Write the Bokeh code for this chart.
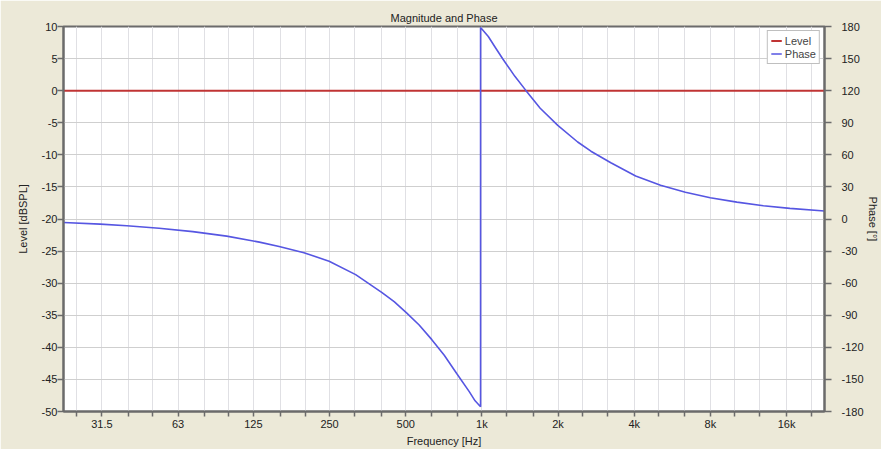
from bokeh.plotting import figure
from bokeh.models import Range1d, LinearAxis, FixedTicker, Legend, LegendItem
from bokeh.embed import file_html
from bokeh.resources import INLINE

# ---- data ----
freq_ticks = [25.0, 31.5, 40.0, 50.0, 63.0, 80.0, 100.0, 125.0, 160.0, 200.0, 250.0,
              315.0, 400.0, 500.0, 630.0, 800.0, 1000.0, 1250.0, 1600.0, 2000.0,
              2500.0, 3150.0, 4000.0, 5000.0, 6300.0, 8000.0, 10000.0, 12500.0,
              16000.0, 20000.0]
freq_labels = {31.5: "31.5", 63.0: "63", 125.0: "125", 250.0: "250", 500.0: "500",
               1000.0: "1k", 2000.0: "2k", 4000.0: "4k", 8000.0: "8k", 16000.0: "16k"}
level_ticks = [-50, -45, -40, -35, -30, -25, -20, -15, -10, -5, 0, 5, 10]
phase_ticks = [-180, -150, -120, -90, -60, -30, 0, 30, 60, 90, 120, 150, 180]

level_freq = [22.2, 22600.0]
level_db = [0.0, 0.0]

phase_freq = [22.2, 31.0, 39.5, 53.0, 72.0, 98.0, 132.0, 158.0, 198.0, 249.0, 317.0,
              403.0, 450.0, 505.0, 565.0, 634.0, 710.0, 795.0, 890.0, 940.0,
              988.0, 988.0, 1060.0, 1120.0, 1210.0, 1350.0, 1497.0, 1700.0,
              1995.0, 2391.0, 2697.0, 3233.0, 4053.0, 5083.0, 6373.0, 7990.0,
              10180.0, 12960.0, 16490.0, 22600.0]
phase_deg = [-3.3, -4.8, -6.3, -8.6, -11.8, -16.0, -21.6, -25.7, -31.5, -39.5, -52.0,
             -68.8, -77.3, -88.0, -99.1, -112.8, -127.4, -144.5, -161.2, -170.0,
             -175.5, 179.0, 170.6, 161.8, 149.6, 133.4, 119.8, 103.6,
             87.5, 72.0, 63.4, 52.6, 40.2, 31.5, 25.0, 19.8,
             15.8, 12.4, 9.9, 7.5]

FONT = "Liberation Sans"
BG = "#ECE9D8"
AX = "#6B6B6B"
TXT = "#222222"

p = figure(width=881, height=449, x_axis_type="log",
           x_range=Range1d(22.2, 22600), y_range=Range1d(-50, 10),
           output_backend="svg", toolbar_location=None,
           min_border_left=63, min_border_right=53, min_border_top=26,
           min_border_bottom=35)
p.extra_y_ranges = {"phase": Range1d(-180, 180)}

p.border_fill_color = BG
p.background_fill_color = "white"
p.outline_line_color = AX
p.outline_line_width = 2

p.title.text = "Magnitude and Phase"
p.title.align = "center"
p.title.text_font = FONT
p.title.text_font_size = "11px"
p.title.text_font_style = "normal"
p.title.text_color = TXT
p.title.standoff = 5

right = LinearAxis(y_range_name="phase", axis_label="Phase [°]")
p.add_layout(right, "right")

p.xaxis.ticker = FixedTicker(ticks=freq_ticks)
p.xaxis.major_label_overrides = {t: freq_labels.get(t, "") for t in freq_ticks}
p.xaxis.axis_label = "Frequency [Hz]"
p.yaxis[0].ticker = FixedTicker(ticks=level_ticks)
p.yaxis[0].major_label_overrides = {t: str(t) for t in level_ticks}
p.yaxis[0].axis_label = "Level [dBSPL]"
right.ticker = FixedTicker(ticks=phase_ticks)
right.major_label_overrides = {t: str(t) for t in phase_ticks}

for ax in [p.xaxis[0], p.yaxis[0], right]:
    ax.axis_line_color = AX
    ax.axis_line_width = 2
    ax.major_tick_line_color = AX
    ax.major_tick_line_width = 1.5
    ax.major_tick_in = 0
    ax.minor_tick_line_color = None
    ax.major_label_text_font = FONT
    ax.major_label_text_font_size = "11px"
    ax.major_label_text_color = TXT
    ax.axis_label_text_font = FONT
    ax.axis_label_text_font_size = "11px"
    ax.axis_label_text_font_style = "normal"
    ax.axis_label_text_color = TXT

p.xaxis.major_tick_out = 5
p.xaxis.major_label_standoff = 1
p.xaxis.axis_label_standoff = 2
p.yaxis[0].major_tick_out = 6
p.yaxis[0].major_label_standoff = 0
p.yaxis[0].axis_label_standoff = 10
right.major_tick_out = 7
right.major_label_standoff = 10
right.axis_label_standoff = 0

p.xgrid.grid_line_color = "#E0E0E4"
p.xgrid.grid_line_width = 1
p.ygrid.grid_line_color = "#CFCFCF"
p.ygrid.grid_line_width = 1

r_level = p.line(level_freq, level_db, line_color="#C03434", line_width=2)
r_phase = p.line(phase_freq, phase_deg, y_range_name="phase",
                 line_color="#5656E2", line_width=1.6)

legend = Legend(items=[LegendItem(label="Level", renderers=[r_level]),
                       LegendItem(label="Phase", renderers=[r_phase])],
                location="top_right", margin=4, padding=3, spacing=0,
                glyph_width=11, glyph_height=13, label_height=13,
                label_standoff=3, label_text_font=FONT, label_text_font_size="11px",
                border_line_color="#7F7F7F", border_line_width=1,
                background_fill_color="white", background_fill_alpha=1.0)
p.add_layout(legend)

open("out.html", "w").write(file_html(p, INLINE))
